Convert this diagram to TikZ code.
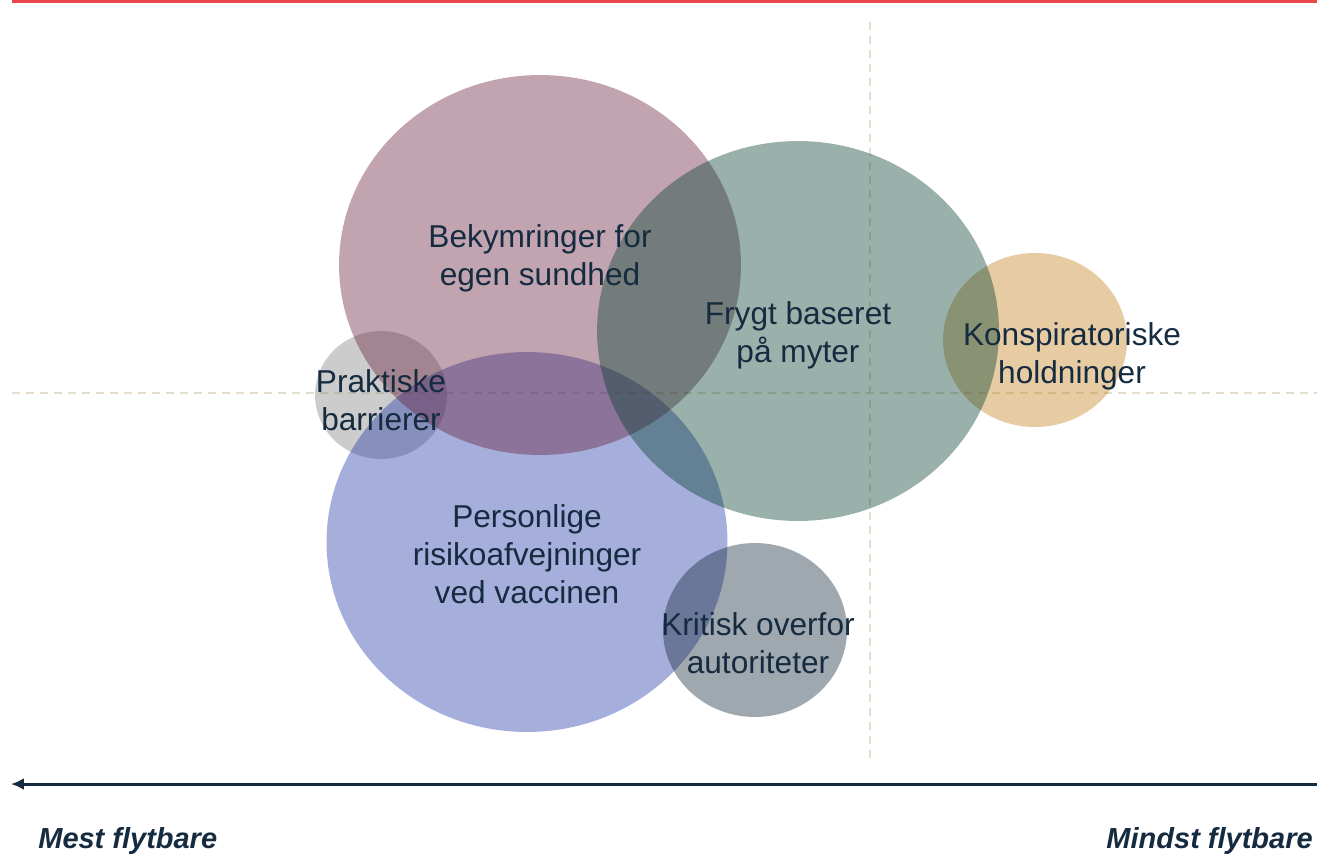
\documentclass[tikz,border=0pt]{standalone}
\usepackage{fontspec}
\setmainfont{Liberation Sans}
\usepackage{xcolor}
\usepackage{tikz}
\usetikzlibrary{arrows.meta}
\usetikzlibrary{shapes,shapes.geometric}
\tikzset{>=stealth}

\definecolor{navytext}{RGB}{21,43,64}
\definecolor{topred}{RGB}{232,72,76}
\definecolor{gridbeige}{RGB}{230,222,204}
\definecolor{wine}{RGB}{102,27,57}
\definecolor{pine}{RGB}{0,61,43}
\definecolor{amber}{RGB}{192,125,25}
\definecolor{slate}{RGB}{128,128,128}
\definecolor{royal}{RGB}{32,52,165}
\definecolor{darknavy}{RGB}{17,37,55}

\tikzset{
  bubble/.style={ellipse, draw=none, inner sep=0pt, fill opacity=0.4},
  bubbletext/.style={align=center, text=navytext, font=\fontsize{18}{21.6}\selectfont},
  axislabel/.style={text=navytext, font=\fontsize{16.5}{19}\selectfont\bfseries\itshape, inner sep=0pt},
  gridline/.style={gridbeige, line width=0.04cm, dash pattern=on 0.16cm off 0.12cm},
}

\begin{document}
\begin{tikzpicture}[x=0.02cm, y=-0.02cm]
      \useasboundingbox (0,0) rectangle (1317,867);
      \draw[topred, line width=0.06cm] (12,1) -- (1317,1) ;
      % dashed cross
      \coordinate (vtop) at (870,22);
      \coordinate (vbot) at (870,758);
      \coordinate (hleft) at (12,393);
      \coordinate (hright) at (1317,393);
      \draw[gridline] (vtop) -- (vbot) ;
      \draw[gridline] (hleft) -- (hright) ;
      % bubbles
      \node[bubble, fill=slate, minimum width=2.64cm, minimum height=2.56cm] (praktisk) at (381,395) {};
      \node[bubble, fill=amber, minimum width=3.68cm, minimum height=3.48cm] (konspir) at (1035,340) {};
      \node[bubble, fill=royal, minimum width=8.02cm, minimum height=7.6cm] (personlig) at (527,542) {};
      \node[bubble, fill=wine, minimum width=8.04cm, minimum height=7.6cm] (bekym) at (540,265) {};
      \node[bubble, fill=pine, minimum width=8.04cm, minimum height=7.6cm] (frygt) at (798,331) {};
      \node[bubble, fill=darknavy, minimum width=3.68cm, minimum height=3.48cm] (kritisk) at (755,630) {};
      % labels
      \node[bubbletext] (praktisktxt) at (381,400) {Praktiske\\barrierer};
      \node[bubbletext] (konspirtxt) at (1072,356) {Konspiratoriske\\holdninger};
      \node[bubbletext] (personligtxt) at (527,554) {Personlige\\risikoafvejninger\\ved vaccinen};
      \node[bubbletext] (bekymtxt) at (540,258) {Bekymringer for\\egen sundhed};
      \node[bubbletext] (frygttxt) at (798,335) {Frygt baseret\\på myter};
      \node[bubbletext] (kritisktxt) at (758,643) {Kritisk overfor\\autoriteter};
      % axis
      \coordinate (axisright) at (1317,784);
      \coordinate (axisleft) at (11,784);
      \draw[navytext, line width=0.06cm, -{Latex[length=0.26cm, width=0.24cm]}] (axisright) -- (axisleft) ;
      \node[axislabel, anchor=west] (mest) at (38,841) {Mest flytbare};
      \node[axislabel, anchor=east] (mindst) at (1313,841) {Mindst flytbare};
\end{tikzpicture}
\end{document}
